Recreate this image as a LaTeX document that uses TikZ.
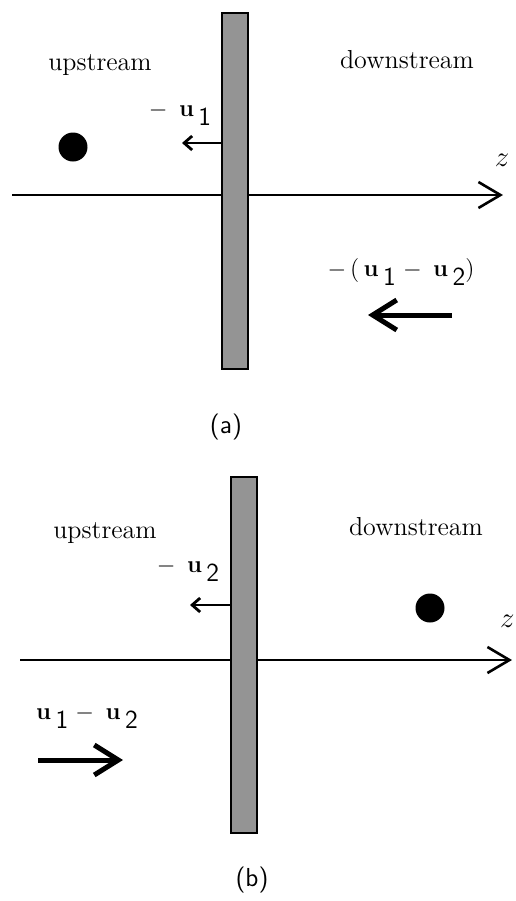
\documentclass[tikz,border=0pt]{standalone}
\usetikzlibrary{arrows.meta}
\newcommand{\vsub}[1]{\raisebox{-4.5pt}{\sffamily #1}}
\begin{document}
\begin{tikzpicture}[x=0.5pt,y=-0.5pt,
  wallbox/.style={draw=black,line width=1pt,fill=black!42,inner sep=0pt,minimum width=13pt,minimum height=178pt},
  lbl/.style={inner sep=0pt,font=\fontsize{13}{15}\selectfont},
  vlbl/.style={inner sep=0pt,font=\fontsize{13}{15}\selectfont},
  zlbl/.style={inner sep=0pt,font=\fontsize{14}{16}\selectfont},
  captext/.style={inner sep=0pt,font=\sffamily\fontsize{13}{15}\selectfont},
  axis/.style={line width=1.3pt,-{Straight Barb[length=11pt,width=13pt,line width=1.3pt]}},
  small/.style={line width=1.2pt,-{Straight Barb[length=4pt,width=7pt,line width=1.4pt]}},
  big/.style={line width=2.5pt,-{Straight Barb[length=12pt,width=15pt,line width=2.5pt]}},
  dotc/.style={circle,fill=black,inner sep=0pt,minimum size=14.5pt}]
\useasboundingbox (0,0) rectangle (515,901);
% ---------- panel (a) ----------
\coordinate (a0) at (12,195);
\coordinate (a1) at (503,195);
\draw[axis] (a0) -- (a1);
\node[wallbox] (wa) at (235,191) {};
\node[lbl] (ua) at (100,65) {upstream};
\node[lbl] (da) at (407,60) {downstream};
\node[zlbl] (za) at (502,160) {$z$};
\node[dotc] (pa) at (73,147) {};
\node[vlbl] (la) at (180,114) {$-$\;\,$\mathbf{u}$\,\vsub{1}};
\coordinate (sa) at (182,143);
\draw[small] (wa.west |- sa) -- (sa);
\node[vlbl] (ra) at (401,272) {$-\,($\,$\mathbf{u}$\,\vsub{1}\;$-$\;\,$\mathbf{u}$\,\vsub{2}$)$};
\coordinate (ba0) at (452,315);
\coordinate (ba1) at (368,315);
\draw[big] (ba0) -- (ba1);
\node[captext] (ca) at (226,427) {(a)};
% ---------- panel (b) ----------
\coordinate (b0) at (20,660);
\coordinate (b1) at (512,660);
\draw[axis] (b0) -- (b1);
\node[wallbox] (wb) at (243.5,655) {};
\node[lbl] (ub) at (105,533) {upstream};
\node[lbl] (db) at (416,527) {downstream};
\node[zlbl,anchor=east] (zb) at (515,621) {$z$};
\node[dotc] (pb) at (430,608) {};
\node[vlbl] (lb) at (188,570) {$-$\;\,$\mathbf{u}$\,\vsub{2}};
\coordinate (sb) at (190,605);
\draw[small] (wb.west |- sb) -- (sb);
\node[vlbl] (rb) at (87,717) {$\mathbf{u}$\,\vsub{1}\;$-$\;\,$\mathbf{u}$\,\vsub{2}};
\coordinate (bb0) at (38,760);
\coordinate (bb1) at (123,760);
\draw[big] (bb0) -- (bb1);
\node[captext] (cb) at (252,880) {(b)};
\end{tikzpicture}
\end{document}
